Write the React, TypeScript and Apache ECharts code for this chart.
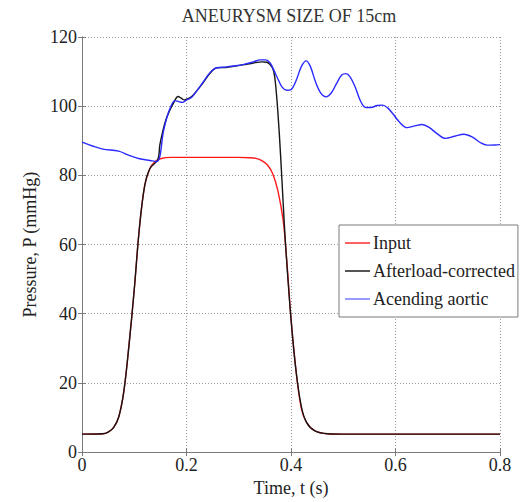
import React, { useEffect, useRef } from "react";
import * as echarts from "echarts";

const FONT = "'Liberation Serif', 'Times New Roman', serif";

const chartTitle = "ANEURYSM SIZE OF 15cm";
const xTicks = [0, 0.2, 0.4, 0.6, 0.8];
const yTicks = [0, 20, 40, 60, 80, 100, 120];

// Input pressure waveform
const inputT = [0, 0.04, 0.05, 0.06, 0.07, 0.08, 0.09, 0.1, 0.11, 0.12, 0.13, 0.14, 0.15, 0.17, 0.3, 0.32, 0.333, 0.345, 0.355, 0.365, 0.375, 0.385, 0.39, 0.395, 0.4, 0.41, 0.42, 0.43, 0.445, 0.47, 0.5, 0.8];
const inputP = [5.2, 5.3, 5.8, 7, 10, 17.5, 31, 47, 65, 77, 82, 84, 84.8, 85.2, 85.2, 85.1, 84.9, 84.2, 83, 80.5, 75.5, 67, 59, 49, 38.5, 23, 12.5, 8.5, 6.2, 5.3, 5.2, 5.2];

// Afterload-corrected pressure
const afterT = [0, 0.04, 0.05, 0.06, 0.07, 0.08, 0.09, 0.1, 0.11, 0.12, 0.13, 0.145, 0.149, 0.155, 0.16, 0.167, 0.174, 0.184, 0.19, 0.196, 0.203, 0.21, 0.22, 0.232, 0.245, 0.258, 0.275, 0.29, 0.31, 0.328, 0.345, 0.354, 0.36, 0.366, 0.37, 0.375, 0.38, 0.385, 0.39, 0.4, 0.41, 0.42, 0.43, 0.445, 0.47, 0.5, 0.8];
const afterP = [5.2, 5.3, 5.8, 7, 10, 17.5, 31, 47, 65, 77, 82, 84.5, 88.8, 93, 95.8, 98.5, 100.6, 102.8, 102.3, 101.8, 102.2, 102.8, 104.5, 106.8, 109.5, 111.1, 111.2, 111.5, 112, 112.5, 112.8, 112.7, 112, 110.5, 107, 98, 86, 72, 59, 38.5, 23, 13, 8.5, 6.2, 5.3, 5.2, 5.2];

// Ascending aortic pressure
const aorticT = [0, 0.02, 0.04, 0.07, 0.09, 0.11, 0.13, 0.143, 0.149, 0.155, 0.162, 0.168, 0.178, 0.185, 0.192, 0.2, 0.21, 0.22, 0.232, 0.245, 0.258, 0.275, 0.29, 0.31, 0.328, 0.341, 0.352, 0.36, 0.367, 0.373, 0.383, 0.392, 0.4, 0.41, 0.42, 0.429, 0.437, 0.447, 0.457, 0.467, 0.477, 0.487, 0.497, 0.505, 0.513, 0.523, 0.533, 0.543, 0.553, 0.565, 0.575, 0.585, 0.595, 0.607, 0.622, 0.637, 0.651, 0.665, 0.68, 0.696, 0.713, 0.731, 0.748, 0.762, 0.775, 0.79, 0.8];
const aorticP = [89.6, 88.5, 87.6, 87, 85.8, 84.8, 84.3, 84, 85.5, 92, 96.5, 99.2, 101.6, 101.3, 101.1, 101.8, 102.6, 104.5, 107, 109.7, 111.1, 111.3, 111.6, 112.1, 112.8, 113.4, 113.4, 112.5, 110.5, 108.5, 105.5, 104.6, 104.8, 107.5, 111.5, 113.1, 111.5, 107, 103.8, 102.7, 103.8, 106.5, 109, 109.4, 108.5, 105.5, 101.5, 99.6, 99.6, 100.2, 100.3, 99.5, 97.8, 95.5, 93.8, 94.3, 94.7, 93.8, 92, 90.7, 91.3, 91.9, 91, 89.5, 88.75, 88.8, 88.9];

const seriesNames = ["Input", "Afterload-corrected", "Acending aortic"];
const seriesColors = ["#ff1a1a", "#151515", "#2a2aff"];
const legendColors = ["#ff6060", "#555555", "#9a9aff"];

const zip = (t: number[], p: number[]) => t.map((v, i) => [v, p[i]]);

export default function App() {
  const ref = useRef<HTMLDivElement>(null);

  useEffect(() => {
    if (!ref.current) return;
    const chart = echarts.init(ref.current, null, { renderer: "svg" });

    const labelStyle = { color: "#222", fontFamily: FONT, fontSize: 18 };
    const axisLine = { show: true, lineStyle: { color: "#7a7a7a", width: 1 } };
    const tick = { show: true, inside: true, length: 4, lineStyle: { color: "#7a7a7a" } };

    const datasets = [zip(inputT, inputP), zip(afterT, afterP), zip(aorticT, aorticP)];

    chart.setOption({
      animation: false,
      backgroundColor: "#ffffff",
      grid: { left: 82, top: 37, right: 27, bottom: 44, containLabel: false },
      graphic: [
        {
          type: "text",
          x: 289,
          y: 16,
          style: {
            text: chartTitle,
            fill: "#333",
            font: `18px ${FONT}`,
            align: "center",
            verticalAlign: "middle",
          },
        },
      ],
      legend: {
        orient: "vertical",
        left: 339,
        top: 225,
        padding: [8, 3, 8, 6],
        itemWidth: 25,
        itemHeight: 2,
        itemGap: 8,
        icon: "rect",
        backgroundColor: "#fff",
        borderColor: "#7a7a7a",
        borderWidth: 1,
        textStyle: { ...labelStyle, lineHeight: 20, padding: [0, 0, 0, -2] },
        data: seriesNames.map((name, i) => ({ name, itemStyle: { color: legendColors[i] } })),
      },
      xAxis: [
        {
          type: "value",
          min: 0,
          max: 0.8,
          interval: 0.2,
          name: "Time, t (s)",
          nameLocation: "middle",
          nameGap: 21,
          nameTextStyle: labelStyle,
          axisLine,
          axisTick: tick,
          axisLabel: { ...labelStyle, margin: 4, formatter: (v: number) => String(Number(v.toFixed(1))) },
          splitLine: { show: true, lineStyle: { color: "#9a9a9a", type: [1, 2], width: 1 } },
        },
        {
          type: "value",
          position: "top",
          min: 0,
          max: 0.8,
          interval: 0.2,
          axisLine,
          axisTick: tick,
          axisLabel: { show: false },
          splitLine: { show: false },
        },
      ],
      yAxis: [
        {
          type: "value",
          min: 0,
          max: 120,
          interval: 20,
          name: "Pressure, P (mmHg)",
          nameLocation: "middle",
          nameGap: 38,
          nameTextStyle: labelStyle,
          axisLine,
          axisTick: tick,
          axisLabel: { ...labelStyle, margin: 5 },
          splitLine: { show: true, lineStyle: { color: "#9a9a9a", type: [1, 2], width: 1 } },
        },
        {
          type: "value",
          position: "right",
          min: 0,
          max: 120,
          interval: 20,
          axisLine,
          axisTick: tick,
          axisLabel: { show: false },
          splitLine: { show: false },
        },
      ],
      series: seriesNames.map((name, i) => ({
        name,
        type: "line",
        data: datasets[i],
        showSymbol: false,
        smooth: 0.35,
        color: seriesColors[i],
        lineStyle: { color: seriesColors[i], width: 1.4 },
        z: 2 + i,
      })),
    });

    return () => chart.dispose();
  }, []);

  return (
    <div
      ref={ref}
      style={{ position: "absolute", left: 0, top: 0, width: 527, height: 502 }}
    />
  );
}
